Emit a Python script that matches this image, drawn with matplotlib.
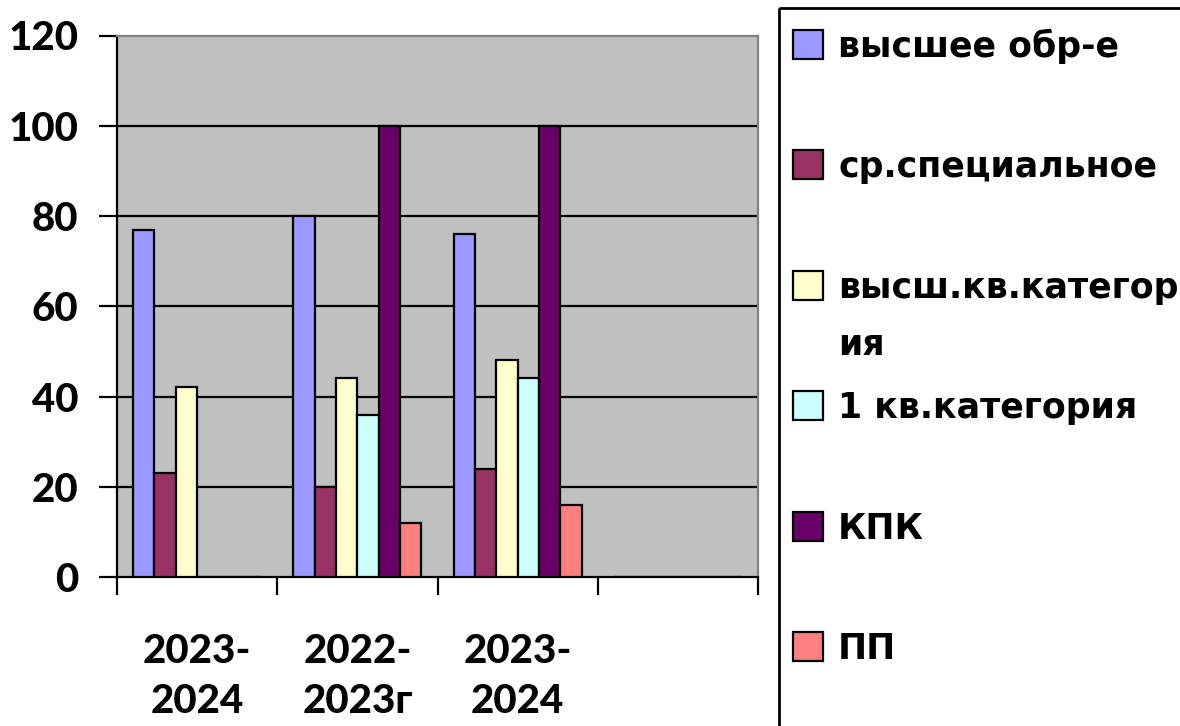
import matplotlib.pyplot as plt
from matplotlib.patches import Rectangle

categories = ["2023-\n2024", "2022-\n2023г", "2023-\n2024", ""]
series = ["высшее обр-е", "ср.специальное", "высш.кв.категор\nия",
          "1 кв.категория", "КПК", "ПП"]
values = [
    [77, 80, 76, 0],     # высшее обр-е
    [23, 20, 24, 0],     # ср.специальное
    [42, 44, 48, 0],     # высш.кв.категория
    [0, 36, 44, 0],      # 1 кв.категория
    [0, 100, 100, 0],    # КПК
    [0, 12, 16, 0],      # ПП
]
colors = ["#9999FF", "#993366", "#FFFFCC", "#CCFFFF", "#660066", "#FF8080"]
yticks = [0, 20, 40, 60, 80, 100, 120]

W, H = 1180, 726
fig = plt.figure(figsize=(W / 100, H / 100), dpi=100)

def px(x0, y0, x1, y1):
    return [x0 / W, 1 - y1 / H, (x1 - x0) / W, (y1 - y0) / H]

ax = fig.add_axes(px(117, 35.5, 758, 577))
ax.set_facecolor("#C0C0C0")

bw = 1 / 7.5
for s, (vals, c) in enumerate(zip(values, colors)):
    xs = [i + 0.1 + s * bw for i in range(len(categories))]
    ax.bar(xs, vals, width=bw, align="edge", color=c, edgecolor="black",
           linewidth=1.6, zorder=3)

ax.set_xlim(0, 4)
ax.set_ylim(0, 120)
ax.set_yticks(yticks)
ax.set_yticklabels([str(v) for v in yticks])
for v in yticks[1:-1]:
    ax.axhline(v, color="black", lw=1.6, zorder=1)

ax.set_xticks(range(len(categories) + 1))
ax.set_xticklabels([])
ax.set_xticks([i + 0.5 for i in range(len(categories))], minor=True)
ax.set_xticklabels(categories, minor=True)
ax.tick_params(axis="x", which="minor", length=0, pad=40)
ax.tick_params(axis="x", which="major", length=13, width=1.6, direction="out")
ax.tick_params(axis="y", length=13, width=1.6, direction="out", pad=15)

for lab in ax.get_xticklabels(minor=True) + ax.get_yticklabels():
    lab.set_fontfamily("Lato")
    lab.set_fontweight("black")
    lab.set_fontsize(29)
for lab in ax.get_xticklabels(minor=True):
    lab.set_linespacing(1.45)

for side in ["left", "bottom"]:
    ax.spines[side].set_color("black")
    ax.spines[side].set_linewidth(1.6)
for side in ["top", "right"]:
    ax.spines[side].set_color("#808080")
    ax.spines[side].set_linewidth(1.6)

# legend drawn in pixel coordinates
lg = fig.add_axes([0, 0, 1, 1], facecolor="none")
lg.set_xlim(0, W)
lg.set_ylim(H, 0)
lg.axis("off")
lg.add_patch(Rectangle((779, 8), 420, 740, fill=False, edgecolor="black", lw=2))
for k, (name, c) in enumerate(zip(series, colors)):
    yc = 45 + 120.4 * k
    lg.add_patch(Rectangle((793, yc - 15), 30, 29, facecolor=c,
                           edgecolor="black", lw=1.6))
    for j, line in enumerate(name.split("\n")):
        lg.text(838, yc + 12 + 57 * j, line, fontsize=25, fontweight="bold",
                family="DejaVu Sans", va="baseline", ha="left")

fig.savefig("out.png", dpi=100)
